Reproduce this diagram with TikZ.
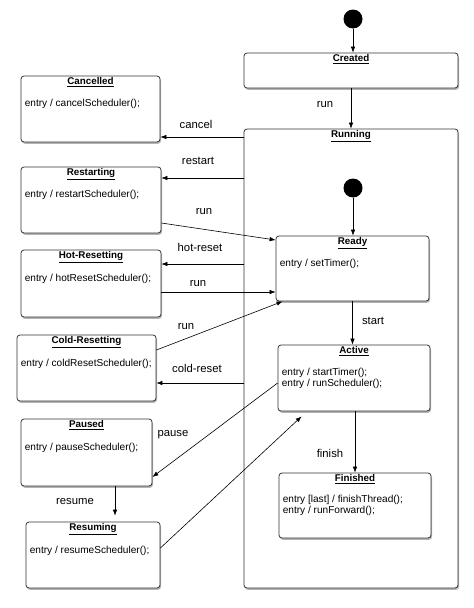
\documentclass[tikz,border=0pt]{standalone}
\usepackage{fontspec}
\setmainfont{Liberation Sans}
\usetikzlibrary{shadows,arrows.meta}

\tikzset{
  state/.style={draw=black!80, line width=0.8pt, rounded corners=3pt, fill=white, inner sep=0pt,
    drop shadow={shadow xshift=1pt, shadow yshift=-1.8pt, opacity=0.6}},
  title/.style={anchor=north, inner sep=1pt, font=\fontsize{9.8}{11}\selectfont\bfseries},
  entry/.style={anchor=north west, align=left, inner sep=0pt, font=\fontsize{10.1}{11.5}\selectfont},
  lbl/.style={font=\fontsize{11.3}{13}\selectfont},
  init/.style={circle, fill=black, minimum size=19pt, inner sep=0pt},
  trans/.style={-{Latex[length=6pt,width=4.5pt]}, line width=0.6pt},
}

\begin{document}
\begin{tikzpicture}[x=1pt,y=-1pt]
\useasboundingbox (0,0) rectangle (474,608);

% outer states
\node[init] (start1) at (353,19) {};
\node[state, minimum width=214pt, minimum height=35pt] (created) at (351,70.5) {};
\node[title] at ([yshift=-1pt]created.north) {\underline{Created}};
\node[state, minimum width=214pt, minimum height=459pt] (running) at (351,358.5) {};
\node[title] at ([yshift=-1pt]running.north) {\underline{Running}};

% inside Running
\node[init] (start2) at (353,188) {};
\node[state, minimum width=153pt, minimum height=65pt] (ready) at (352.5,268.5) {};
\node[title] at ([yshift=-1pt]ready.north) {\underline{Ready}};
\node[entry] (ready-txt) at ([xshift=4pt,yshift=-23pt]ready.north west) {entry / setTimer();};
\node[state, minimum width=152pt, minimum height=66pt] (active) at (354,378) {};
\node[title] at ([yshift=-1pt]active.north) {\underline{Active}};
\node[entry] (active-txt) at ([xshift=4pt,yshift=-23pt]active.north west) {entry / startTimer();\\entry / runScheduler();};
\node[state, minimum width=152pt, minimum height=65pt] (finished) at (355,505.5) {};
\node[title] at ([yshift=-1pt]finished.north) {\underline{Finished}};
\node[entry] (finished-txt) at ([xshift=4pt,yshift=-22pt]finished.north west) {entry [last] / finishThread();\\entry / runForward();};

% left column
\node[state, minimum width=139pt, minimum height=66pt] (cancelled) at (90.5,109) {};
\node[title] at ([yshift=-1pt]cancelled.north) {\underline{Cancelled}};
\node[entry] (cancelled-txt) at ([xshift=4pt,yshift=-23pt]cancelled.north west) {entry / cancelScheduler();};
\node[state, minimum width=140pt, minimum height=66pt] (restarting) at (91,200) {};
\node[title] at ([yshift=-1pt]restarting.north) {\underline{Restarting}};
\node[entry] (restarting-txt) at ([xshift=4pt,yshift=-23pt]restarting.north west) {entry / restartScheduler();};
\node[state, minimum width=140pt, minimum height=67pt] (hotreset) at (91,283.5) {};
\node[title] at ([yshift=-1pt]hotreset.north) {\underline{Hot-Resetting}};
\node[entry] (hotreset-txt) at ([xshift=4pt,yshift=-24pt]hotreset.north west) {entry / hotResetScheduler();};
\node[state, minimum width=139pt, minimum height=66pt] (coldreset) at (86.5,368) {};
\node[title] at ([yshift=-1pt]coldreset.north) {\underline{Cold-Resetting}};
\node[entry] (coldreset-txt) at ([xshift=4pt,yshift=-24pt]coldreset.north west) {entry / coldResetScheduler();};
\node[state, minimum width=131pt, minimum height=67pt] (paused) at (86.5,452.5) {};
\node[title] at ([yshift=-1pt]paused.north) {\underline{Paused}};
\node[entry] (paused-txt) at ([xshift=4pt,yshift=-24pt]paused.north west) {entry / pauseScheduler();};
\node[state, minimum width=134pt, minimum height=66pt] (resuming) at (93,555) {};
\node[title] at ([yshift=-1pt]resuming.north) {\underline{Resuming}};
\node[entry] (resuming-txt) at ([xshift=4pt,yshift=-24pt]resuming.north west) {entry / resumeScheduler();};

% transitions
\draw[trans] (start1) -- (start1 |- created.north);
\draw[trans] (created) -- (running);
\draw[trans] (start2) -- (start2 |- ready.north);
\draw[trans] (ready.south) -- (ready.south |- active.north);
\draw[trans] (active.south -| finished.north) -- (finished.north);
\draw[trans] (running.west |- 0,137) -- (cancelled.east |- 0,137);
\draw[trans] (running.west |- 0,178) -- (restarting.east |- 0,178);
\draw[trans] (restarting.east |- 0,223) -- (ready.west |- 0,240);
\draw[trans] (running.west |- 0,264) -- (hotreset.east |- 0,264);
\draw[trans] (hotreset.east |- 0,292) -- (ready.west |- 0,292);
\draw[trans] (coldreset.east |- 0,350) -- ([xshift=7pt]ready.south west);
\draw[trans] (running.west |- 0,383) -- (coldreset.east |- 0,383);
\draw[trans] (active.west |- 0,383) -- (paused.east |- 0,477);
\draw[trans, shorten >=6pt] (paused.south -| 115,0) -- (resuming.north -| 115,0);
\draw[trans] (resuming.east |- 0,548) -- ([xshift=24pt,yshift=-5pt]active.south west);

% labels
\node[lbl] (l-run0) at (325,105) {run};
\node[lbl] (l-cancel) at (196,124) {cancel};
\node[lbl] (l-restart) at (198,161) {restart};
\node[lbl] (l-run1) at (204,212) {run};
\node[lbl] (l-hot) at (200,247) {hot-reset};
\node[lbl] (l-run2) at (198,284) {run};
\node[lbl] (l-run3) at (186,327) {run};
\node[lbl] (l-cold) at (197,368) {cold-reset};
\node[lbl] (l-pause) at (173,435) {pause};
\node[lbl] (l-resume) at (75,502) {resume};
\node[lbl] (l-start) at (373,321) {start};
\node[lbl] (l-finish) at (330,453) {finish};
\end{tikzpicture}
\end{document}
